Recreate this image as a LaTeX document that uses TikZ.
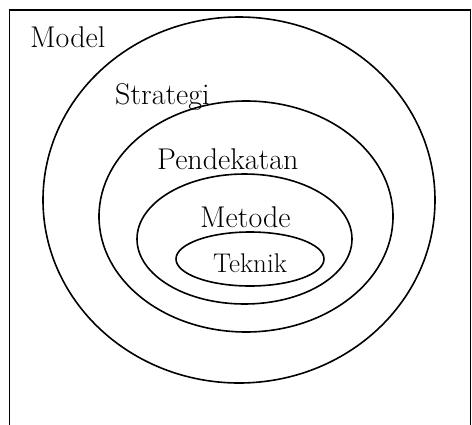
\documentclass[tikz,border=0pt]{standalone}
\usepackage{tikz}
\tikzset{
  ring/.style={draw=black,line width=1.6pt},
  frame/.style={draw=black,line width=1.2pt},
  lbl/.style={inner sep=0pt,anchor=base west,font=\fontsize{30}{34}\selectfont},
  smalllbl/.style={lbl,font=\fontsize{27}{31}\selectfont},
}

\begin{document}
\begin{tikzpicture}[x=1pt,y=-1pt]
  \useasboundingbox (0,0) rectangle (472,424);
  \clip (0,0) rectangle (472,424);
  \draw[frame] (9.5,10) rectangle (470.5,440);
  % nested rings
  \draw[ring] (239,200) ellipse (196 and 183);
  \draw[ring] (246,216.5) ellipse (147 and 115.5);
  \draw[ring] (244.5,239) ellipse (107.5 and 65);
  \draw[ring] (250,259) ellipse (74 and 27);
  \node[lbl] (model) at (30,47) {Model};
  \node[lbl] (strategi) at (115,104) {Strategi};
  \node[lbl] (pendekatan) at (157,169) {Pendekatan};
  \node[lbl] (metode) at (200,227) {Metode};
  \node[smalllbl] (teknik) at (213,272) {Teknik};
\end{tikzpicture}
\end{document}
